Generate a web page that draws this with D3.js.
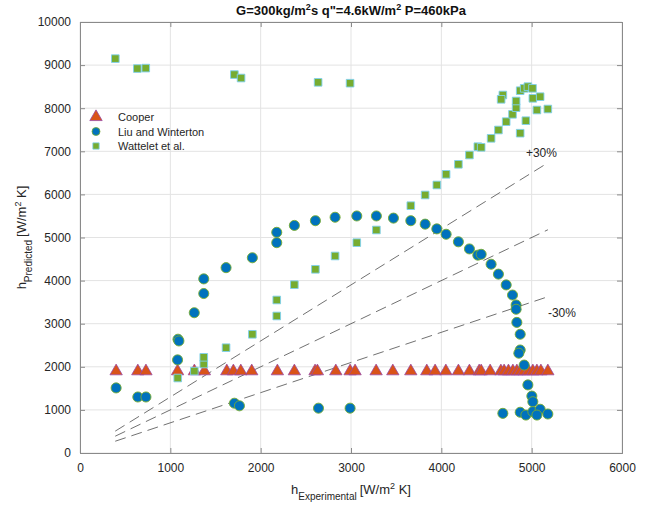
<!DOCTYPE html>
<html>
<head>
<meta charset="utf-8">
<script src="https://cdn.jsdelivr.net/npm/d3@7"></script>
<style>
  body { margin: 0; background: #fff; }
  text { font-family: "Liberation Sans", Arial, sans-serif; }
</style>
</head>
<body>
<svg id="chart" width="648" height="508"></svg>
<script>
// ticks
var xTicks = [0, 1000, 2000, 3000, 4000, 5000, 6000];
var yTicks = [0, 1000, 2000, 3000, 4000, 5000, 6000, 7000, 8000, 9000, 10000];

// Cooper: h_exp / h_pred
var cooperX = [400, 640, 730, 1080, 1266, 1377, 1625, 1698, 1780, 1901, 2185, 2373, 2602, 2628,
               2832, 2990, 3045, 3278, 3463, 3662, 3839, 3931, 4050, 4189, 4311, 4419, 4441, 4540,
               4659, 4695, 4743, 4792, 4836, 4873, 4917, 4965, 5013, 5058, 5102, 5179];
var cooperY = [1920, 1920, 1920, 1920, 1920, 1920, 1920, 1920, 1920, 1920, 1920, 1920, 1920, 1920,
               1920, 1920, 1920, 1920, 1920, 1920, 1920, 1920, 1920, 1920, 1920, 1920, 1920, 1920,
               1920, 1920, 1920, 1920, 1920, 1920, 1920, 1920, 1920, 1920, 1920, 1920];

// Liu and Winterton
var liuX = [400, 640, 730, 1080, 1085, 1095, 1265, 1370, 1370, 1617, 1908, 2178, 2178, 2373, 2606,
            2824, 3064, 3281, 3470, 3662, 3821, 3950, 4053, 4189, 4311, 4404, 4441, 4551, 4632,
            4718, 4788, 4828, 4828, 4836, 4873, 4873, 4858, 4917, 4958, 5002, 5013, 4681, 4873,
            4936, 5013, 5094, 5058, 5179, 1709, 1765, 2640, 2990];
var liuY = [1510, 1300, 1300, 2160, 2640, 2600, 3255, 3700, 4040, 4300, 4530, 4880, 5120, 5280, 5390,
            5470, 5500, 5500, 5450, 5390, 5310, 5200, 5075, 4900, 4735, 4590, 4610, 4380, 4150,
            3900, 3665, 3435, 3335, 3030, 2755, 2390, 2315, 2040, 1580, 1320, 1190, 920, 945,
            880, 960, 1015, 880, 905, 1155, 1095, 1040, 1040];

// Wattelet et al.
var watX = [391, 635, 728, 1709, 1783, 2636, 2990, 1082, 1266, 1370, 1370, 1617, 1908, 2178, 2178,
            2373, 2606, 2824, 3064, 3281, 3662, 3821, 3950, 4053, 4189, 4311, 4404, 4441, 4551,
            4632, 4718, 4788, 4828, 4828, 4873, 4917, 4958, 5009, 5013, 5094, 5058, 5179, 4936,
            4873, 4681, 4662];
var watY = [9150, 8920, 8930, 8780, 8700, 8600, 8580, 1740, 1900, 2065, 2220, 2443, 2754, 3179, 3550,
            3905, 4262, 4571, 4880, 5174, 5738, 5986, 6218, 6466, 6698, 6914, 7107, 7092, 7301,
            7494, 7688, 7858, 8012, 8167, 8406, 8461, 8500, 8461, 8229, 8267, 7958, 7981, 7710,
            7420, 8306, 8206];

// +/-30% band
var bandFactors = [1.3, 1.0, 0.7];
var bandRange = [390, 5180];

var svg = d3.select("#chart");
var padding = { top: 22, right: 26, bottom: 55, left: 80 };
var width = +svg.attr("width");
var height = +svg.attr("height");

var xScale = d3.scaleLinear()
               .domain([0, 6000])
               .range([padding.left, width - padding.right]);
var yScale = d3.scaleLinear()
               .domain([0, 10000])
               .range([height - padding.bottom, padding.top]);

var x0 = xScale.range()[0], x1 = xScale.range()[1];
var y0 = yScale.range()[0], y1 = yScale.range()[1];

// grid
svg.append("g")
    .selectAll("line")
    .data(xTicks)
    .enter().append("line")
      .attr("x1", d => xScale(d)).attr("x2", d => xScale(d))
      .attr("y1", y0).attr("y2", y1)
      .attr("stroke", "#e3e3e3");
svg.append("g")
    .selectAll("line")
    .data(yTicks)
    .enter().append("line")
      .attr("y1", d => yScale(d)).attr("y2", d => yScale(d))
      .attr("x1", x0).attr("x2", x1)
      .attr("stroke", "#e3e3e3");

// axes (ticks inward, box)
var axisColor = "#8a8a8a";
var xAxis = d3.axisBottom(xScale).tickValues(xTicks).tickSize(-5).tickPadding(10).tickFormat(d3.format("d"));
var yAxis = d3.axisLeft(yScale).tickValues(yTicks).tickSize(-5).tickPadding(9).tickFormat(d3.format("d"));

svg.append("g")
    .attr("transform", "translate(0," + y0 + ")")
    .call(xAxis);
svg.append("g")
    .attr("transform", "translate(" + x0 + ",0)")
    .call(yAxis);
svg.append("g")
    .attr("transform", "translate(0," + y1 + ")")
    .call(d3.axisTop(xScale).tickValues(xTicks).tickSize(-5).tickFormat(""));
svg.append("g")
    .attr("transform", "translate(" + x1 + ",0)")
    .call(d3.axisRight(yScale).tickValues(yTicks).tickSize(-5).tickFormat(""));

svg.selectAll(".domain, .tick line").attr("stroke", axisColor);
svg.selectAll(".tick text")
    .attr("fill", "#262626")
    .style("font-size", "12px")
    .style("font-family", "'Liberation Sans', Arial, sans-serif");

// reference lines
var line = d3.line().x(d => xScale(d[0])).y(d => yScale(d[1]));
svg.append("g")
    .selectAll("path")
    .data(bandFactors)
    .enter().append("path")
      .attr("d", f => line(bandRange.map(v => [v, v * f])))
      .attr("fill", "none")
      .attr("stroke", "#4d4d4d")
      .attr("stroke-width", 0.8)
      .attr("stroke-dasharray", "11,6");

svg.append("text")
    .attr("x", xScale(5180) - 22).attr("y", yScale(5180 * 1.3) - 6)
    .style("font-size", "12px").attr("fill", "#262626")
    .text("+30%");
svg.append("text")
    .attr("x", xScale(5180)).attr("y", yScale(5180 * 0.7) + 20)
    .style("font-size", "12px").attr("fill", "#262626")
    .text("-30%");

// markers
var tri = d3.symbol().type(d3.symbolTriangle).size(66);
var circ = d3.symbol().type(d3.symbolCircle).size(80);
var sq = d3.symbol().type(d3.symbolSquare).size(58);

svg.append("g")
    .selectAll("path")
    .data(cooperX.map((d, i) => [d, cooperY[i]]))
    .enter().append("path")
      .attr("d", tri)
      .attr("transform", d => "translate(" + xScale(d[0]) + "," + (yScale(d[1]) + 1) + ")")
      .attr("fill", "#D95319")
      .attr("stroke", "#9a4aa6")
      .attr("stroke-width", 0.8);

svg.append("g")
    .selectAll("path")
    .data(liuX.map((d, i) => [d, liuY[i]]))
    .enter().append("path")
      .attr("d", circ)
      .attr("transform", d => "translate(" + xScale(d[0]) + "," + yScale(d[1]) + ")")
      .attr("fill", "#0072BD")
      .attr("stroke", "#77AC30")
      .attr("stroke-width", 0.9);

svg.append("g")
    .selectAll("path")
    .data(watX.map((d, i) => [d, watY[i]]))
    .enter().append("path")
      .attr("d", sq)
      .attr("transform", d => "translate(" + xScale(d[0]) + "," + yScale(d[1]) + ")")
      .attr("fill", "#77AC30")
      .attr("stroke", "#7fd0ee")
      .attr("stroke-width", 0.9);

// legend
var legend = svg.append("g").attr("transform", "translate(96,117)");
var legendItems = [
  { name: "Cooper", sym: tri, fill: "#D95319", stroke: "#9a4aa6" },
  { name: "Liu and Winterton", sym: d3.symbol().type(d3.symbolCircle).size(50), fill: "#0072BD", stroke: "#77AC30" },
  { name: "Wattelet et al.", sym: d3.symbol().type(d3.symbolSquare).size(40), fill: "#77AC30", stroke: "#7fd0ee" }
];
legendItems.forEach(function(it, i) {
  legend.append("path")
      .attr("d", it.sym)
      .attr("transform", "translate(0," + (i * 14.5) + ")")
      .attr("fill", it.fill)
      .attr("stroke", it.stroke)
      .attr("stroke-width", 0.8);
  legend.append("text")
      .attr("x", 22).attr("y", i * 14.5 + 4)
      .style("font-size", "11px").attr("fill", "#262626")
      .text(it.name);
});

// title
var title = svg.append("text")
    .attr("x", (x0 + x1) / 2).attr("y", 15)
    .attr("text-anchor", "middle")
    .style("font-size", "13px").style("font-weight", "bold").attr("fill", "#111");
title.append("tspan").text("G=300kg/m");
title.append("tspan").attr("baseline-shift", "super").style("font-size", "9px").text("2");
title.append("tspan").text("s q\"=4.6kW/m");
title.append("tspan").attr("baseline-shift", "super").style("font-size", "9px").text("2");
title.append("tspan").text(" P=460kPa");

// x label
var xl = svg.append("text")
    .attr("x", (x0 + x1) / 2).attr("y", 494)
    .attr("text-anchor", "middle")
    .style("font-size", "13px").attr("fill", "#262626");
xl.append("tspan").text("h");
xl.append("tspan").attr("baseline-shift", "sub").style("font-size", "10px").text("Experimental");
xl.append("tspan").attr("dx", 3).text("[W/m");
xl.append("tspan").attr("baseline-shift", "super").style("font-size", "9px").text("2");
xl.append("tspan").text(" K]");

// y label
var yl = svg.append("text")
    .attr("transform", "translate(26," + ((y0 + y1) / 2) + ") rotate(-90)")
    .attr("text-anchor", "middle")
    .style("font-size", "13px").attr("fill", "#262626");
yl.append("tspan").text("h");
yl.append("tspan").attr("baseline-shift", "sub").style("font-size", "10px").text("Predicted");
yl.append("tspan").attr("dx", 3).text("[W/m");
yl.append("tspan").attr("baseline-shift", "super").style("font-size", "9px").text("2");
yl.append("tspan").text(" K]");
</script>
</body>
</html>
